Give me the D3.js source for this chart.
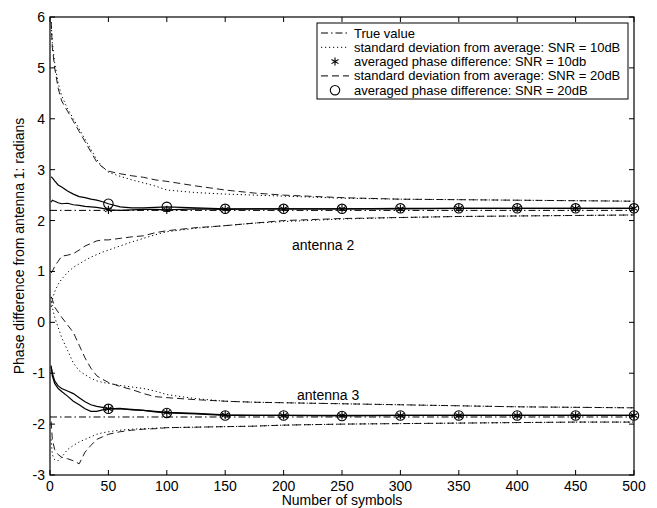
<!DOCTYPE html>
<html lang="en">
<head>
<meta charset="UTF-8" />
<title>Phase difference</title>
<style>
  body { margin: 0; background: #fff; }
  svg text { font-family: "Liberation Sans", Arial, Helvetica, sans-serif; fill: #000; }
</style>
</head>
<body>
<div id="chart"></div>
<script src="https://cdnjs.cloudflare.com/ajax/libs/d3/7.8.5/d3.min.js"></script>
<script>
// symbol index shared by every curve
var symbols = [1, 2, 4, 7, 10, 15, 20, 25, 30, 35, 40, 45, 50, 60, 70, 80, 90, 100, 125, 150, 175, 200, 250, 300, 350, 400, 450, 500];

var trueValues = [2.2, -1.86];

// antenna 2
var ant2Avg10 = [2.36, 2.40, 2.38, 2.35, 2.33, 2.34, 2.31, 2.30, 2.28, 2.27, 2.26, 2.24, 2.21, 2.20, 2.21, 2.22, 2.22, 2.21, 2.23, 2.22, 2.23, 2.23, 2.23, 2.23, 2.24, 2.24, 2.24, 2.24];
var ant2Avg20 = [2.86, 2.84, 2.78, 2.70, 2.66, 2.58, 2.52, 2.47, 2.45, 2.42, 2.40, 2.37, 2.33, 2.27, 2.25, 2.25, 2.26, 2.27, 2.25, 2.23, 2.23, 2.23, 2.23, 2.24, 2.24, 2.24, 2.24, 2.24];
var ant2Up10 = [5.9, 5.5, 5.1, 4.7, 4.45, 4.2, 4.0, 3.8, 3.6, 3.4, 3.2, 3.05, 2.95, 2.87, 2.80, 2.74, 2.68, 2.60, 2.55, 2.52, 2.50, 2.48, 2.44, 2.42, 2.41, 2.40, 2.39, 2.38];
var ant2Up20 = [5.9, 5.4, 5.0, 4.6, 4.35, 4.15, 3.95, 3.75, 3.55, 3.35, 3.15, 3.05, 2.97, 2.92, 2.88, 2.85, 2.80, 2.77, 2.68, 2.60, 2.54, 2.50, 2.45, 2.42, 2.41, 2.40, 2.39, 2.38];
var ant2Low10 = [0.3, 0.45, 0.6, 0.75, 0.85, 0.98, 1.08, 1.15, 1.22, 1.28, 1.33, 1.38, 1.42, 1.5, 1.58, 1.65, 1.72, 1.78, 1.85, 1.9, 1.95, 1.98, 2.03, 2.06, 2.08, 2.09, 2.10, 2.11];
var ant2Low20 = [0.97, 1.0, 1.1, 1.2, 1.3, 1.32, 1.35, 1.42, 1.5, 1.55, 1.6, 1.62, 1.62, 1.65, 1.68, 1.7, 1.76, 1.8, 1.86, 1.9, 1.95, 2.0, 2.04, 2.06, 2.08, 2.09, 2.10, 2.11];

// antenna 3
var ant3Avg10 = [-0.88, -1.0, -1.15, -1.25, -1.3, -1.35, -1.4, -1.48, -1.56, -1.62, -1.65, -1.67, -1.70, -1.69, -1.72, -1.73, -1.75, -1.77, -1.79, -1.82, -1.83, -1.83, -1.83, -1.83, -1.83, -1.83, -1.83, -1.83];
var ant3Avg20 = [-0.85, -1.05, -1.2, -1.3, -1.36, -1.45, -1.55, -1.62, -1.7, -1.75, -1.75, -1.72, -1.70, -1.70, -1.71, -1.73, -1.76, -1.78, -1.8, -1.83, -1.83, -1.83, -1.84, -1.83, -1.83, -1.83, -1.83, -1.83];
var ant3Up10 = [0.5, 0.3, 0.1, -0.1, -0.3, -0.55, -0.8, -0.95, -1.03, -1.1, -1.15, -1.18, -1.2, -1.24, -1.27, -1.3, -1.35, -1.42, -1.5, -1.55, -1.57, -1.58, -1.6, -1.62, -1.64, -1.66, -1.67, -1.68];
var ant3Up20 = [0.5, 0.45, 0.3, 0.2, 0.1, -0.05, -0.2, -0.45, -0.7, -0.9, -1.05, -1.12, -1.18, -1.26, -1.32, -1.4, -1.46, -1.48, -1.52, -1.55, -1.57, -1.58, -1.6, -1.62, -1.64, -1.66, -1.67, -1.68];
var ant3Low10 = [-2.3, -2.6, -2.7, -2.72, -2.65, -2.5, -2.42, -2.35, -2.3, -2.25, -2.2, -2.17, -2.15, -2.12, -2.1, -2.09, -2.08, -2.07, -2.06, -2.05, -2.04, -2.02, -2.0, -1.99, -1.98, -1.97, -1.96, -1.96];
var ant3Low20 = [-1.95, -2.3, -2.5, -2.6, -2.65, -2.68, -2.72, -2.78, -2.55, -2.42, -2.3, -2.25, -2.2, -2.15, -2.12, -2.1, -2.09, -2.07, -2.06, -2.05, -2.04, -2.02, -2.0, -1.99, -1.98, -1.97, -1.96, -1.96];

var xTicks = [0, 50, 100, 150, 200, 250, 300, 350, 400, 450, 500];
var yTicks = [-3, -2, -1, 0, 1, 2, 3, 4, 5, 6];

var legendLabels = [
  'True value',
  'standard deviation from average: SNR = 10dB',
  'averaged phase difference: SNR = 10db',
  'standard deviation from average: SNR = 20dB',
  'averaged phase difference: SNR = 20dB'
];

var width = 657, height = 508;
var padL = 50, padR = 634, padT = 17, padB = 475;

var svg = d3.select('#chart').append('svg')
  .attr('width', width)
  .attr('height', height);

var x = d3.scaleLinear().domain([0, 500]).range([padL, padR]);
var y = d3.scaleLinear().domain([-3, 6]).range([padB, padT]);

var dotted = '1.2,2.8';
var dashed = '7,4';
var dashDot = '7,3,1.5,3';

var line = d3.line()
  .x(function (d) { return x(d[0]); })
  .y(function (d) { return y(d[1]); });

function pairs(vals) {
  return symbols.map(function (s, i) { return [s, vals[i]]; });
}

function drawCurve(vals, dash, w) {
  svg.append('path')
    .datum(pairs(vals))
    .attr('d', line)
    .attr('fill', 'none')
    .attr('stroke', '#000')
    .attr('stroke-width', w || 0.9)
    .attr('stroke-dasharray', dash);
}

// true values
trueValues.forEach(function (v) {
  svg.append('line')
    .attr('x1', x(0)).attr('x2', x(500))
    .attr('y1', y(v)).attr('y2', y(v))
    .attr('stroke', '#000')
    .attr('stroke-width', 1)
    .attr('stroke-dasharray', dashDot);
});

[ant2Up10, ant2Low10, ant3Up10, ant3Low10].forEach(function (c) { drawCurve(c, dotted, 1); });
[ant2Up20, ant2Low20, ant3Up20, ant3Low20].forEach(function (c) { drawCurve(c, dashed, 0.9); });
[ant2Avg10, ant2Avg20, ant3Avg10, ant3Avg20].forEach(function (c) { drawCurve(c, null, 1.2); });

// markers every 50 symbols
var star = d3.symbol().type(d3.symbolAsterisk).size(45);
var circ = d3.symbol().type(d3.symbolCircle).size(70);

function drawMarkers(vals, sym, cls) {
  var pts = pairs(vals).filter(function (d) { return d[0] % 50 === 0; });
  svg.selectAll('.' + cls)
    .data(pts)
    .enter()
    .append('path')
    .attr('class', cls)
    .attr('d', sym)
    .attr('transform', function (d) { return 'translate(' + x(d[0]) + ',' + y(d[1]) + ')'; })
    .attr('fill', 'none')
    .attr('stroke', '#000')
    .attr('stroke-width', 1.1);
}
drawMarkers(ant2Avg10, star, 's2');
drawMarkers(ant3Avg10, star, 's3');
drawMarkers(ant2Avg20, circ, 'c2');
drawMarkers(ant3Avg20, circ, 'c3');

// frame and ticks
svg.append('rect')
  .attr('x', padL).attr('y', padT)
  .attr('width', padR - padL).attr('height', padB - padT)
  .attr('fill', 'none').attr('stroke', '#000').attr('stroke-width', 1.2);

var tl = 5;
xTicks.forEach(function (t) {
  svg.append('line').attr('x1', x(t)).attr('x2', x(t)).attr('y1', padB).attr('y2', padB - tl).attr('stroke', '#000');
  svg.append('line').attr('x1', x(t)).attr('x2', x(t)).attr('y1', padT).attr('y2', padT + tl).attr('stroke', '#000');
  svg.append('text').attr('x', x(t)).attr('y', padB + 16)
    .attr('text-anchor', 'middle').style('font-size', '14px').text(t);
});
yTicks.forEach(function (t) {
  svg.append('line').attr('x1', padL).attr('x2', padL + tl).attr('y1', y(t)).attr('y2', y(t)).attr('stroke', '#000');
  svg.append('line').attr('x1', padR).attr('x2', padR - tl).attr('y1', y(t)).attr('y2', y(t)).attr('stroke', '#000');
  svg.append('text').attr('x', padL - 5).attr('y', y(t) + 5)
    .attr('text-anchor', 'end').style('font-size', '14px').text(t);
});

svg.append('text').attr('x', (padL + padR) / 2).attr('y', 505)
  .attr('text-anchor', 'middle').style('font-size', '14px').text('Number of symbols');
svg.append('text')
  .attr('transform', 'translate(24,' + ((padT + padB) / 2) + ') rotate(-90)')
  .attr('text-anchor', 'middle').style('font-size', '14px')
  .text('Phase difference from antenna 1: radians');

svg.append('text').attr('x', 292).attr('y', 250).style('font-size', '14px').text('antenna 2');
svg.append('text').attr('x', 297).attr('y', 400).style('font-size', '14px').text('antenna 3');

// legend
var lg = svg.append('g');
lg.append('rect')
  .attr('x', 317).attr('y', 23).attr('width', 311).attr('height', 76)
  .attr('fill', '#fff').attr('stroke', '#000').attr('stroke-width', 1);
var entryStyle = [
  { dash: dashDot, sym: null },
  { dash: dotted, sym: null },
  { dash: null, sym: star },
  { dash: dashed, sym: null },
  { dash: null, sym: circ }
];
legendLabels.forEach(function (lab, i) {
  var yy = 33 + i * 14.3;
  var st = entryStyle[i];
  if (st.sym) {
    lg.append('path').attr('d', st.sym).attr('transform', 'translate(335,' + yy + ')')
      .attr('fill', 'none').attr('stroke', '#000').attr('stroke-width', 1.1);
  } else {
    lg.append('line').attr('x1', 321).attr('x2', 349).attr('y1', yy).attr('y2', yy)
      .attr('stroke', '#000').attr('stroke-width', 1).attr('stroke-dasharray', st.dash);
  }
  lg.append('text').attr('x', 354).attr('y', yy + 4.5).style('font-size', '13px').text(lab);
});
</script>
</body>
</html>
